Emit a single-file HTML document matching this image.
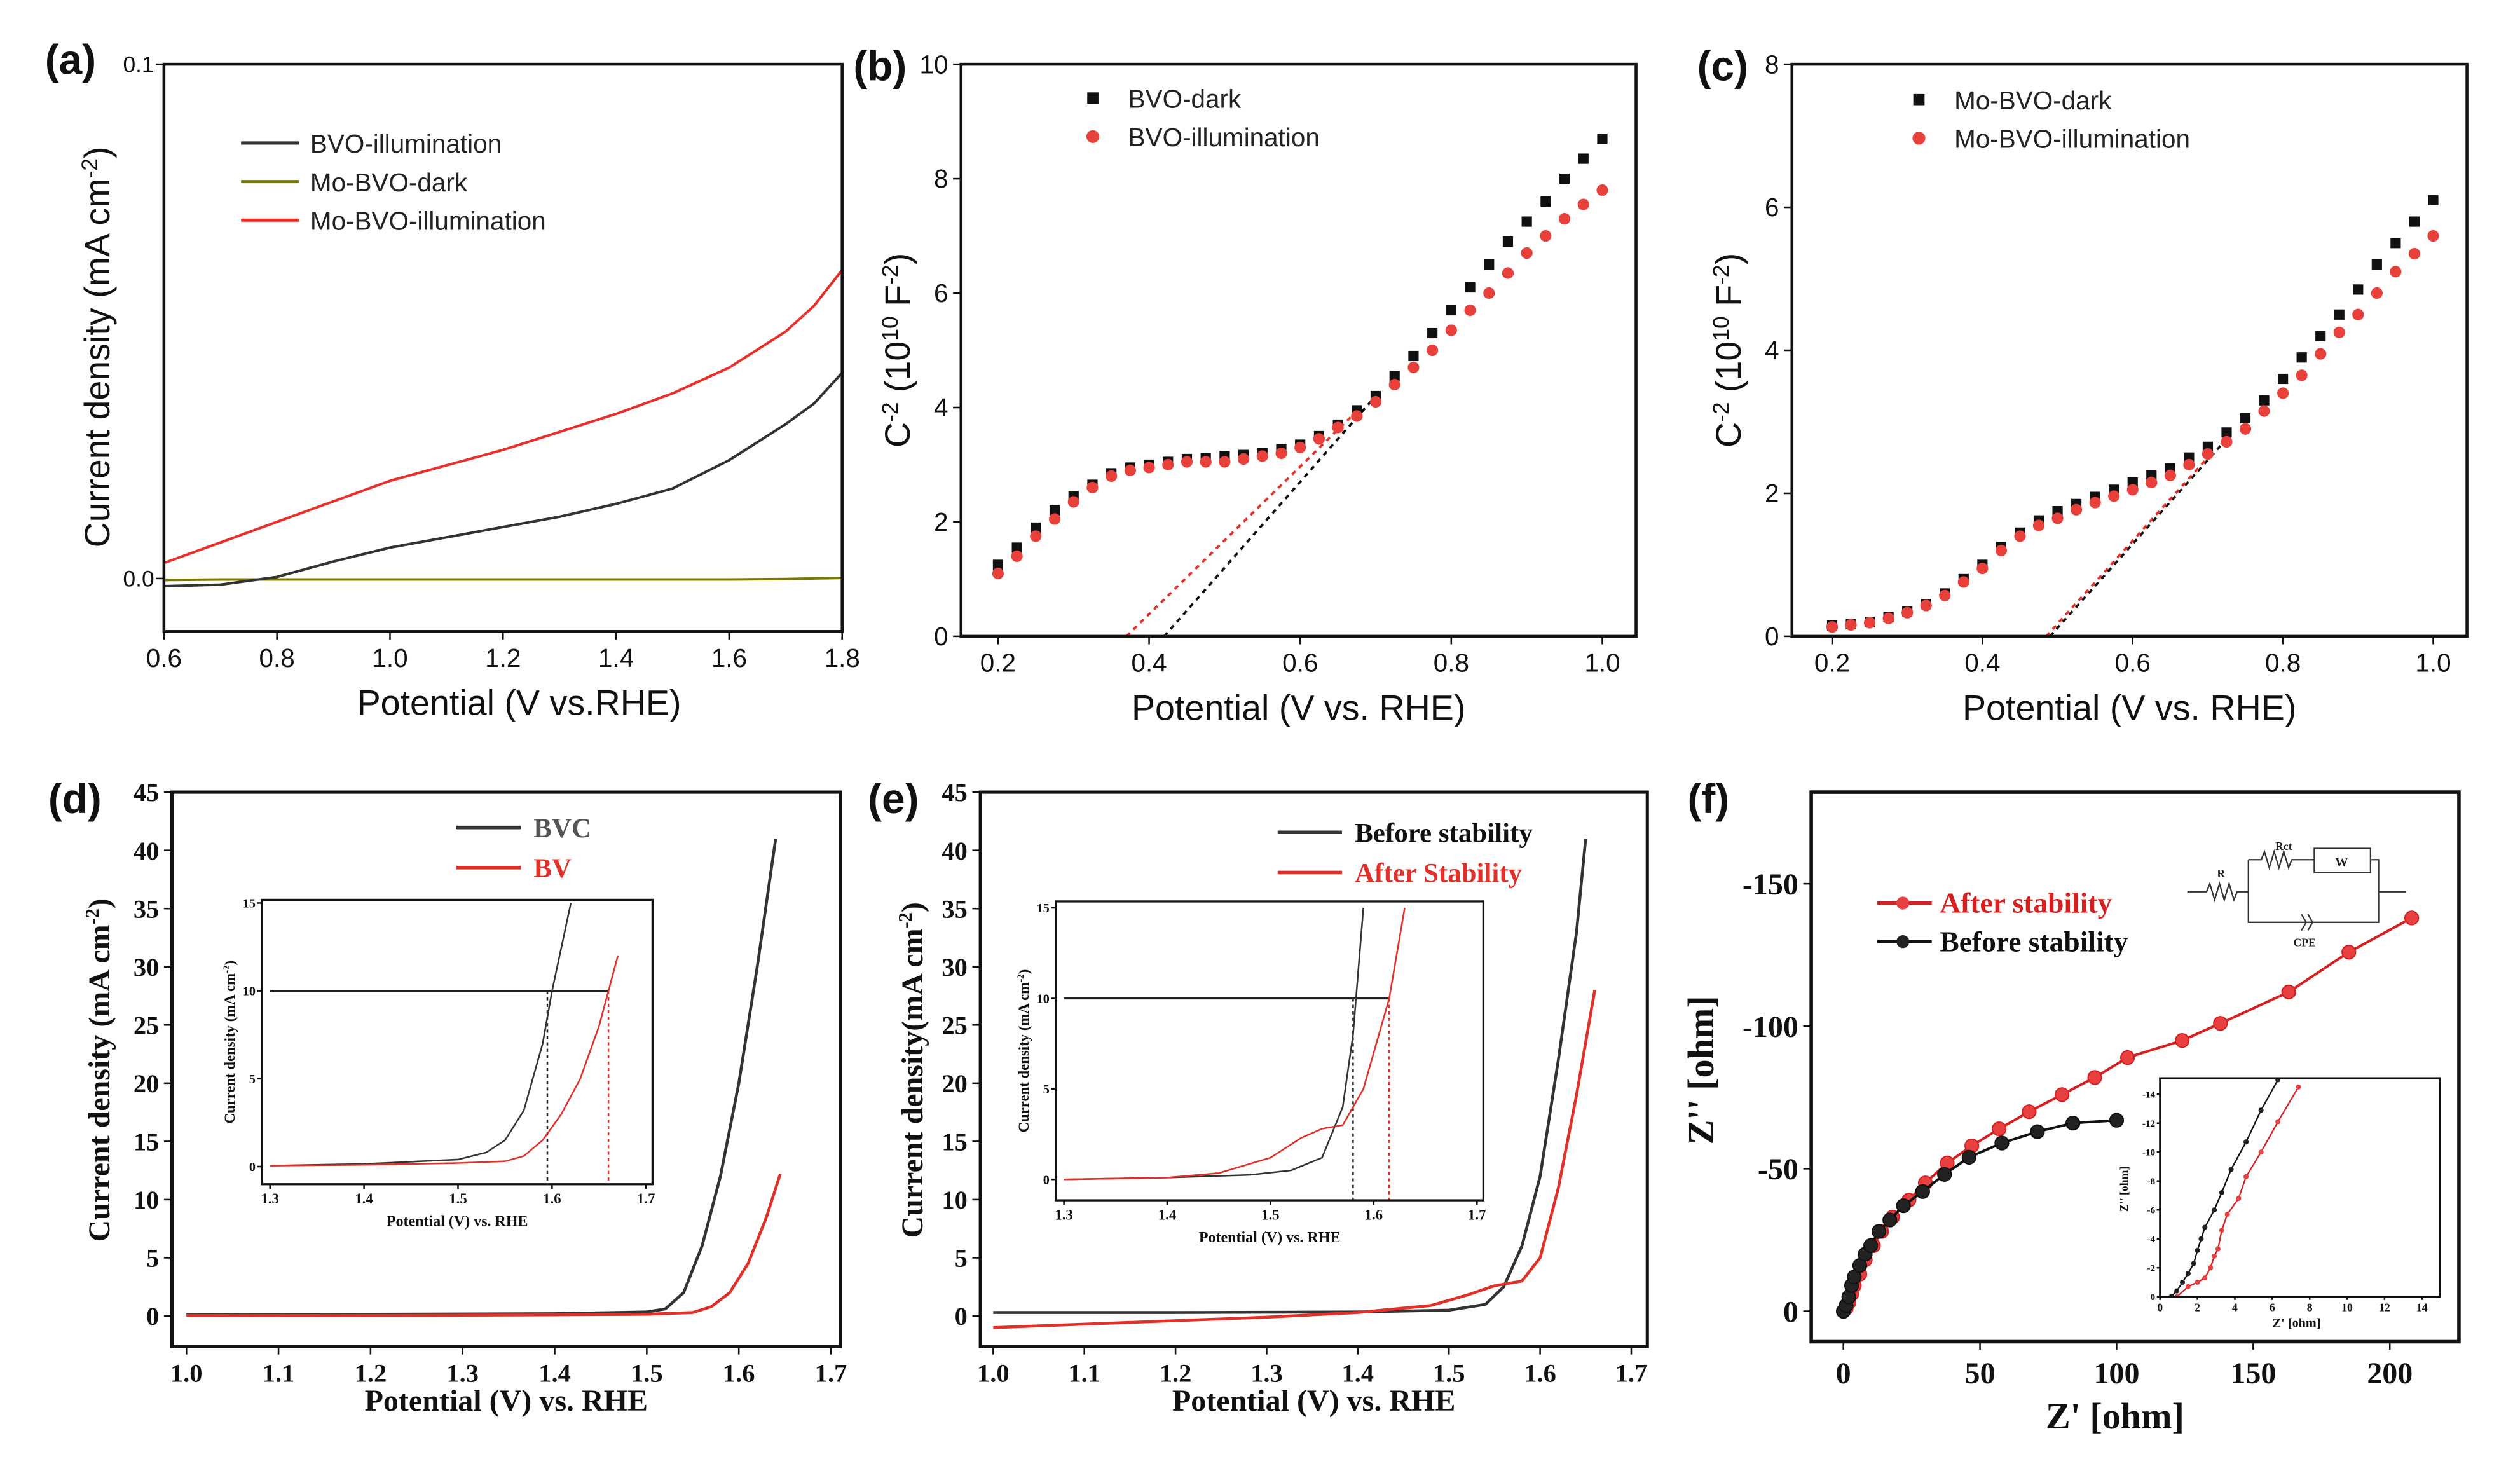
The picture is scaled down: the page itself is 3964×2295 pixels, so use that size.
<!DOCTYPE html>
<html><head><meta charset="utf-8"><style>
html,body{margin:0;padding:0;background:#fff;}
svg{display:block;}
.s{font-family:"Liberation Sans",sans-serif;}
.r{font-family:"Liberation Serif",serif;font-weight:bold;}
</style></head><body>
<svg id="fig" xmlns="http://www.w3.org/2000/svg" width="3964" height="2295" viewBox="0 0 1568 908" preserveAspectRatio="none">
<rect x="0" y="0" width="1568" height="908" fill="#fff"/>
</svg>
<script>
// ---------- DATA ----------
const aX = [0.6,0.7,0.8,0.9,1.0,1.1,1.2,1.3,1.4,1.5,1.6,1.7,1.75,1.8];
const aBVOillum = [-0.0015,-0.0012,0.0003,0.0033,0.006,0.008,0.010,0.012,0.0145,0.0175,0.023,0.030,0.034,0.040];
const aMoDark = [-0.0003,-0.0002,-0.0002,-0.0002,-0.0002,-0.0002,-0.0002,-0.0002,-0.0002,-0.0002,-0.0002,-0.0001,0,0.0001];
const aMoIllum = [0.003,0.007,0.011,0.015,0.019,0.022,0.025,0.0285,0.032,0.036,0.041,0.048,0.053,0.060];
const bX = [0.2,0.225,0.25,0.275,0.3,0.325,0.35,0.375,0.4,0.425,0.45,0.475,0.5,0.525,0.55,0.575,0.6,0.625,0.65,0.675,0.7,0.725,0.75,0.775,0.8,0.825,0.85,0.875,0.9,0.925,0.95,0.975,1.0];
const bDark = [1.25,1.55,1.9,2.2,2.45,2.65,2.85,2.95,3.0,3.05,3.1,3.12,3.15,3.17,3.2,3.27,3.35,3.5,3.7,3.95,4.2,4.55,4.9,5.3,5.7,6.1,6.5,6.9,7.25,7.6,8.0,8.35,8.7];
const bIllum = [1.1,1.4,1.75,2.05,2.35,2.6,2.8,2.9,2.95,3.0,3.05,3.05,3.05,3.1,3.15,3.2,3.3,3.45,3.65,3.85,4.1,4.4,4.7,5.0,5.35,5.7,6.0,6.35,6.7,7.0,7.3,7.55,7.8];
const cDark = [0.15,0.17,0.2,0.27,0.35,0.45,0.6,0.8,1.0,1.25,1.45,1.62,1.75,1.85,1.95,2.05,2.15,2.25,2.35,2.5,2.65,2.85,3.05,3.3,3.6,3.9,4.2,4.5,4.85,5.2,5.5,5.8,6.1];
const cIllum = [0.13,0.16,0.19,0.25,0.33,0.43,0.57,0.76,0.95,1.2,1.4,1.55,1.65,1.77,1.87,1.96,2.05,2.15,2.25,2.4,2.55,2.72,2.9,3.15,3.4,3.65,3.95,4.25,4.5,4.8,5.1,5.35,5.6];
const bFitDark = [[0.42,0],[0.70,4.2]];
const bFitIllum = [[0.37,0],[0.68,4.0]];
const cFitDark = [[0.49,0],[0.72,2.7]];
const cFitIllum = [[0.485,0],[0.70,2.5]];
const dBVCx = [1.0,1.2,1.4,1.5,1.52,1.54,1.56,1.58,1.60,1.62,1.64];
const dBVCy = [0.1,0.15,0.2,0.35,0.6,2,6,12,20,30,41];
const dBVx = [1.0,1.2,1.4,1.5,1.55,1.57,1.59,1.61,1.63,1.645];
const dBVy = [0.05,0.05,0.1,0.15,0.3,0.8,2,4.5,8.5,12.2];
const diBVCx = [1.3,1.4,1.5,1.53,1.55,1.57,1.59,1.60,1.62];
const diBVCy = [0.05,0.15,0.4,0.8,1.5,3.2,7,10,15];
const diBVx = [1.3,1.4,1.5,1.55,1.57,1.59,1.61,1.63,1.65,1.66,1.67];
const diBVy = [0.05,0.1,0.2,0.3,0.6,1.5,3,5,8,10,12];
const eBeforeX = [1.0,1.2,1.4,1.5,1.54,1.56,1.58,1.60,1.62,1.64,1.65];
const eBeforeY = [0.3,0.3,0.35,0.5,1,2.5,6,12,22,33,41];
const eAfterX = [1.0,1.1,1.2,1.3,1.4,1.48,1.52,1.55,1.58,1.60,1.62,1.64,1.66];
const eAfterY = [-1,-0.7,-0.4,-0.1,0.3,0.9,1.8,2.6,3,5,11,19,28];
const eiBeforeX = [1.3,1.4,1.48,1.52,1.55,1.57,1.58,1.59];
const eiBeforeY = [0,0.1,0.25,0.5,1.2,4,8,15];
const eiAfterX = [1.3,1.4,1.45,1.5,1.53,1.55,1.57,1.59,1.60,1.615,1.63];
const eiAfterY = [0,0.1,0.35,1.2,2.3,2.8,3,5,7,10,15];
const fAfterX = [0,1,2,3,4,6,8,11,14,18,24,30,38,47,57,68,80,92,104,124,138,163,185,208];
const fAfterY = [0,-1,-3,-6,-9,-13,-18,-23,-28,-33,-39,-45,-52,-58,-64,-70,-76,-82,-89,-95,-101,-112,-126,-138];
const fBeforeX = [0,1,2,3,4,6,8,10,13,17,22,29,37,46,58,71,84,100];
const fBeforeY = [0,-2,-5,-9,-12,-16,-20,-23,-28,-32,-37,-42,-48,-54,-59,-63,-66,-67];
const fiBeforeX = [0.6,0.9,1.2,1.5,1.8,2.0,2.2,2.4,2.9,3.3,3.8,4.6,5.4,6.3];
const fiBeforeY = [0,-0.4,-1,-1.6,-2.3,-3.2,-4,-4.8,-6,-7.2,-8.8,-10.7,-12.9,-15];
const fiAfterX = [0.9,1.5,2,2.4,2.7,2.9,3.1,3.3,3.6,4.2,4.6,5.4,6.3,7.4];
const fiAfterY = [0,-0.7,-1,-1.3,-2,-2.8,-3.3,-4.6,-5.7,-6.8,-8.3,-10,-12.1,-14.5];
const aXTicks = ['0.6','0.8','1.0','1.2','1.4','1.6','1.8'];
const aYTicks = ['0.0','0.1'];
const bcXTicks = ['0.2','0.4','0.6','0.8','1.0'];
const bYTicks = ['0','2','4','6','8','10'];
const cYTicks = ['0','2','4','6','8'];
const deXTicks = ['1.0','1.1','1.2','1.3','1.4','1.5','1.6','1.7'];
const deYTicks = ['0','5','10','15','20','25','30','35','40','45'];
const insXTicks = ['1.3','1.4','1.5','1.6','1.7'];
const insYTicks = ['0','5','10','15'];
const fXTicks = ['0','50','100','150','200'];
const fYTicks = ['0','-50','-100','-150'];
const fiXTicks = ['0','2','4','6','8','10','12','14'];
const fiYTicks = ['0','-2','-4','-6','-8','-10','-12','-14'];

// ---------- HELPERS ----------
const NS='http://www.w3.org/2000/svg';
const svg=document.getElementById('fig');
function el(tag,parent){const e=document.createElementNS(NS,tag);(parent||svg).appendChild(e);return e;}
function sc(d0,d1,p0,p1){return v=>p0+(v-d0)*(p1-p0)/(d1-d0);}
function grp(name){const g=el('g');


return g;}
function txt(g,s,x,y,size,cls,anchor,fill,name,rot){const t=el('text',g);t.textContent=s;t.setAttribute('x',x);t.setAttribute('y',y);t.setAttribute('font-size',size);t.setAttribute('class',cls);t.setAttribute('text-anchor',anchor||'middle');t.setAttribute('fill',fill||'#111');if(rot)t.setAttribute('transform','rotate(-90 '+x+' '+y+')');


return t;}
function box(g,b,w){const r=el('rect',g);r.setAttribute('x',b[0]);r.setAttribute('y',b[1]);r.setAttribute('width',b[2]-b[0]);r.setAttribute('height',b[3]-b[1]);r.setAttribute('fill','none');r.setAttribute('stroke','#111');r.setAttribute('stroke-width',w);

}
function line(g,x1,y1,x2,y2,stroke,w,dash,name){const l=el('line',g);l.setAttribute('x1',x1);l.setAttribute('y1',y1);l.setAttribute('x2',x2);l.setAttribute('y2',y2);l.setAttribute('stroke',stroke);l.setAttribute('stroke-width',w);if(dash)l.setAttribute('stroke-dasharray',dash);


return l;}
function poly(g,xs,ys,X,Y,stroke,w,name,dash){const p=el('polyline',g);p.setAttribute('points',xs.map((v,i)=>X(v).toFixed(2)+','+Y(ys[i]).toFixed(2)).join(' '));p.setAttribute('fill','none');p.setAttribute('stroke',stroke);p.setAttribute('stroke-width',w);p.setAttribute('stroke-linejoin','round');if(dash)p.setAttribute('stroke-dasharray',dash);


return p;}
function xticks(g,labels,X,yb,len,size,cls,off){labels.forEach(s=>{const v=parseFloat(s);const x=X(v);line(g,x,yb,x,yb+len,'#111',1,null,'x-tick');txt(g,s,x,yb+off,size,cls,'middle','#111','x-tick-label');});}
function yticks(g,labels,Y,xl,len,size,cls,off){labels.forEach(s=>{const v=parseFloat(s);const y=Y(v);line(g,xl,y,xl-len,y,'#111',1,null,'y-tick');txt(g,s,xl-off,y+size*0.35,size,cls,'end','#111','y-tick-label');});}

// ---------- (a) ----------
(function(){const g=grp('panel-a');const b=[102,40,524,393];const X=sc(0.6,1.8,102,524),Y=sc(0,0.1,360,40);
poly(g,aX,aMoDark,X,Y,'#7a7a00',1.6,'line-mo-bvo-dark');
poly(g,aX,aBVOillum,X,Y,'#333',1.6,'line-bvo-illumination');
poly(g,aX,aMoIllum,X,Y,'#e8302a',1.6,'line-mo-bvo-illumination');
box(g,b,1.8);xticks(g,aXTicks,X,393,5,16,'s',22);yticks(g,aYTicks,Y,102,5,14,'s',6);
txt(g,'Potential (V vs.RHE)',323,445,22,'s','middle','#111','x-axis-title');
const t=txt(g,'',68,216,22,'s','middle','#111','y-axis-title',true);t.innerHTML='Current density (mA cm<tspan baseline-shift="super" font-size="14">-2</tspan>)';
const L=[['BVO-illumination','#333'],['Mo-BVO-dark','#7a7a00'],['Mo-BVO-illumination','#e8302a']];
L.forEach((l,i)=>{const y=89+i*24;line(g,150,y,186,y,l[1],2,null,'legend-swatch');txt(g,l[0],193,y+6,16,'s','start','#222','legend-label');});
txt(g,'(a)',28,46,26,'s','start','#111','panel-label').setAttribute('font-weight','bold');})();

// ---------- (b) & (c) ----------
function mott(name,b,x0,x1,ymax,yTicks,dark,illum,fd,fi,leg,ytx,lbl,lx){const g=grp(name);const X=sc(0.2,1.0,x0,x1),Y=sc(0,ymax,396,40);
line(g,X(fd[0][0]),Y(fd[0][1]),X(fd[1][0]),Y(fd[1][1]),'#111',1.5,'3,3','fit-line-dark');
line(g,X(fi[0][0]),Y(fi[0][1]),X(fi[1][0]),Y(fi[1][1]),'#e8302a',1.5,'3,3','fit-line-illumination');
bX.forEach((v,i)=>{const r=el('rect',g);r.setAttribute('x',X(v)-3.2);r.setAttribute('y',Y(dark[i])-3.2);r.setAttribute('width',6.4);r.setAttribute('height',6.4);r.setAttribute('fill','#111');

});
bX.forEach((v,i)=>{const c=el('circle',g);c.setAttribute('cx',X(v));c.setAttribute('cy',Y(illum[i]));c.setAttribute('r',3.6);c.setAttribute('fill','#e8403a');

});
box(g,b,1.8);xticks(g,bcXTicks,X,396,5,16,'s',22);yticks(g,yTicks,Y,b[0],5,16,'s',8);
txt(g,'Potential (V vs. RHE)',(b[0]+b[2])/2,448,22,'s','middle','#111','x-axis-title');
const t=txt(g,'',ytx,218,22,'s','middle','#111','y-axis-title',true);t.innerHTML='C<tspan baseline-shift="super" font-size="14">-2</tspan> (10<tspan baseline-shift="super" font-size="14">10</tspan> F<tspan baseline-shift="super" font-size="14">-2</tspan>)';
const r=el('rect',g);r.setAttribute('x',leg[0]-3.5);r.setAttribute('y',leg[1]-3.5);r.setAttribute('width',7);r.setAttribute('height',7);r.setAttribute('fill','#111');


const c=el('circle',g);c.setAttribute('cx',leg[0]);c.setAttribute('cy',leg[1]+24);c.setAttribute('r',4);c.setAttribute('fill','#e8403a');


txt(g,leg[2],leg[0]+22,leg[1]+6,16,'s','start','#222','legend-label');txt(g,leg[3],leg[0]+22,leg[1]+30,16,'s','start','#222','legend-label');
txt(g,lbl,lx,50,26,'s','start','#111','panel-label').setAttribute('font-weight','bold');}
mott('panel-b',[598,40,1018,396],621,997,10,bYTicks,bDark,bIllum,bFitDark,bFitIllum,[680,61,'BVO-dark','BVO-illumination'],566,'(b)',531);
mott('panel-c',[1115,40,1535,396],1140,1514,8,cYTicks,cDark,cIllum,cFitDark,cFitIllum,[1194,62,'Mo-BVO-dark','Mo-BVO-illumination'],1083,'(c)',1056);

// ---------- (d) & (e) ----------
function lsv(name,b,x0,x1,s1,s2,leg,lbl,lx,ytx,xtitle,ytitle){const g=grp(name);const X=sc(1.0,1.7,x0,x1),Y=sc(0,45,819,493);
poly(g,s1[0],s1[1],X,Y,'#333',1.8,'line-'+leg[0].toLowerCase().replace(/ /g,'-'));
poly(g,s2[0],s2[1],X,Y,'#e0302a',1.8,'line-'+leg[1].toLowerCase().replace(/ /g,'-'));
box(g,b,2);xticks(g,deXTicks,X,b[3],5,16,'r',22);yticks(g,deYTicks,Y,b[0],5,16,'r',8);
txt(g,xtitle,(b[0]+b[2])/2,878,19,'r','middle','#111','x-axis-title');
const t=txt(g,'',ytx,666,19,'r','middle','#111','y-axis-title',true);t.innerHTML=ytitle+' cm<tspan baseline-shift="super" font-size="12">-2</tspan>)';
line(g,leg[2],leg[3],leg[2]+40,leg[3],'#333',2.2,null,'legend-swatch');line(g,leg[2],leg[3]+25,leg[2]+40,leg[3]+25,'#e0302a',2.2,null,'legend-swatch');
txt(g,leg[0],leg[2]+48,leg[3]+6,17,'r','start',leg[4],'legend-label');txt(g,leg[1],leg[2]+48,leg[3]+31,17,'r','start','#e0302a','legend-label');
txt(g,lbl,lx,506,26,'s','start','#111','panel-label').setAttribute('font-weight','bold');}
lsv('panel-d',[107,493,523,838],116,517,[dBVCx,dBVCy],[dBVx,dBVy],['BVC','BV',284,515,'#555'],'(d)',30,68,'Potential (V) vs. RHE','Current density (mA');
lsv('panel-e',[610,493,1025,838],618,1015,[eBeforeX,eBeforeY],[eAfterX,eAfterY],['Before stability','After Stability',795,518,'#111'],'(e)',540,574,'Potential (V) vs. RHE','Current density(mA');

function inset(name,b,x0,x1,y0,y15,s1,s2,v1,v2){const g=grp(name);const X=sc(1.3,1.7,x0,x1),Y=sc(0,15,y0,y15);
const cp=el('clipPath',g);cp.setAttribute('id','cl'+name);const cr=el('rect',cp);cr.setAttribute('x',b[0]);cr.setAttribute('y',b[1]);cr.setAttribute('width',b[2]-b[0]);cr.setAttribute('height',b[3]-b[1]);
const rr=el('rect',g);rr.setAttribute('x',b[0]);rr.setAttribute('y',b[1]);rr.setAttribute('width',b[2]-b[0]);rr.setAttribute('height',b[3]-b[1]);rr.setAttribute('fill','#fff');


line(g,X(1.3),Y(10),X(v2),Y(10),'#222',1.3,null,'reference-line-10');
line(g,X(v1),Y(10),X(v1),b[3],'#222',1,'2,2','overpotential-marker');
line(g,X(v2),Y(10),X(v2),b[3],'#e0302a',1,'2,2','overpotential-marker');
poly(g,s1[0],s1[1],X,Y,'#333',1,'inset-line-1').setAttribute('clip-path','url(#cl'+name+')');
poly(g,s2[0],s2[1],X,Y,'#e0302a',1,'inset-line-2').setAttribute('clip-path','url(#cl'+name+')');
box(g,b,1.3);xticks(g,insXTicks,X,b[3],3,9,'r',12);yticks(g,insYTicks,Y,b[0],3,8,'r',4);
txt(g,'Potential (V) vs. RHE',(b[0]+b[2])/2,b[3]+26,9.5,'r','middle','#111','inset-x-title');
const t=txt(g,'',b[0]-17,(b[1]+b[3])/2,9,'r','middle','#111','inset-y-title',true);t.innerHTML='Current density (mA cm<tspan baseline-shift="super" font-size="6">-2</tspan>)';}
inset('inset-d',[163,560,406,737],168,402,726,562,[diBVCx,diBVCy],[diBVx,diBVy],1.595,1.66);
inset('inset-e',[657,561,923,747],662,919,734,565,[eiBeforeX,eiBeforeY],[eiAfterX,eiAfterY],1.58,1.615);

// ---------- (f) ----------
(function(){const g=grp('panel-f');const b=[1127,493,1530,835];const X=sc(0,200,1147,1487),Y=sc(0,-150,816,550);
function ser(xs,ys,col,fillc,name,Xf,Yf,r,w){poly(g,xs,ys,Xf,Yf,col,w,'line-'+name);xs.forEach((v,i)=>{const c=el('circle',g);c.setAttribute('cx',Xf(v));c.setAttribute('cy',Yf(ys[i]));c.setAttribute('r',r);c.setAttribute('fill',fillc);c.setAttribute('stroke',col);c.setAttribute('stroke-width',0.8);

});}
ser(fAfterX,fAfterY,'#d42020','#e84040','after-stability',X,Y,4.2,1.6);
ser(fBeforeX,fBeforeY,'#111','#222','before-stability',X,Y,4.2,1.6);
box(g,b,2.2);xticks(g,fXTicks,X,b[3],5,19,'r',26);yticks(g,fYTicks,Y,b[0],5,19,'r',8);
txt(g,"Z' [ohm]",1316,889,23,'r','middle','#111','x-axis-title');
txt(g,"Z'' [ohm]",1066,666,23,'r','middle','#111','y-axis-title',true);
line(g,1168,562,1202,562,'#d42020',2,null,'legend-swatch');const c1=el('circle',g);c1.setAttribute('cx',1184);c1.setAttribute('cy',562);c1.setAttribute('r',4);c1.setAttribute('fill','#e84040');


line(g,1168,586,1202,586,'#111',2,null,'legend-swatch');const c2=el('circle',g);c2.setAttribute('cx',1184);c2.setAttribute('cy',586);c2.setAttribute('r',4);c2.setAttribute('fill','#222');


txt(g,'After stability',1207,568,18,'r','start','#d42020','legend-label');
txt(g,'Before stability',1207,592,18,'r','start','#111','legend-label');
txt(g,'(f)',1050,506,26,'s','start','#111','panel-label').setAttribute('font-weight','bold');
// circuit
const cg=el('g',g);cg.setAttribute('transform','translate(6,4)');


const p=el('path',cg);p.setAttribute('fill','none');p.setAttribute('stroke','#333');p.setAttribute('stroke-width',0.9);
p.setAttribute('d','M1355,551 L1367,551 l2,-5 l3,10 l3,-10 l3,10 l3,-10 l3,10 l2,-5 L1393,551 M1393,531 L1393,570 L1474,570 L1474,531 L1469,531 M1393,531 L1401,531 l2,-5 l3,10 l3,-10 l3,10 l3,-10 l3,10 l2,-5 L1434,531 M1474,551 L1491,551 M1393,570 L1424,570 M1426,565 l3,5 l-3,5 M1430,565 l3,5 l-3,5');
const w=el('rect',cg);w.setAttribute('x',1434);w.setAttribute('y',524);w.setAttribute('width',35);w.setAttribute('height',15);w.setAttribute('fill','none');w.setAttribute('stroke','#333');w.setAttribute('stroke-width',0.9);


txt(cg,'W',1451,535,8,'r','middle','#222','circuit-label');
txt(cg,'R',1376,542,7,'r','middle','#222','circuit-label');
txt(cg,'Rct',1415,525,7,'r','middle','#222','circuit-label');
txt(cg,'CPE',1428,585,7,'r','middle','#222','circuit-label');
// inset
const ib=[1344,671,1518,807];const IX=sc(0,14,1344,1507),IY=sc(0,-14,807,681);
const icp=el('clipPath',g);icp.setAttribute('id','clfi');const icr=el('rect',icp);icr.setAttribute('x',ib[0]);icr.setAttribute('y',ib[1]);icr.setAttribute('width',ib[2]-ib[0]);icr.setAttribute('height',ib[3]-ib[1]);
const rr=el('rect',g);rr.setAttribute('x',ib[0]);rr.setAttribute('y',ib[1]);rr.setAttribute('width',ib[2]-ib[0]);rr.setAttribute('height',ib[3]-ib[1]);rr.setAttribute('fill','#fff');


const ig=el('g',g);ig.setAttribute('clip-path','url(#clfi)');


(function(g){function s2(xs,ys,col,fillc,name){poly(g,xs,ys,IX,IY,col,0.9,'line-'+name);xs.forEach((v,i)=>{const c=el('circle',g);c.setAttribute('cx',IX(v));c.setAttribute('cy',IY(ys[i]));c.setAttribute('r',1.6);c.setAttribute('fill',fillc);

});}
s2(fiBeforeX,fiBeforeY,'#111','#222','inset-before');s2(fiAfterX,fiAfterY,'#d42020','#e84040','inset-after');})(ig);
box(g,ib,1.2);xticks(g,fiXTicks,IX,ib[3],2,7,'r',9);yticks(g,fiYTicks,IY,ib[0],2,6,'r',3);
txt(g,"Z' [ohm]",1429,826,8,'r','middle','#111','inset-x-title');
txt(g,"Z'' [ohm]",1324,740,7,'r','middle','#111','inset-y-title',true);})();
</script>
</body></html>
